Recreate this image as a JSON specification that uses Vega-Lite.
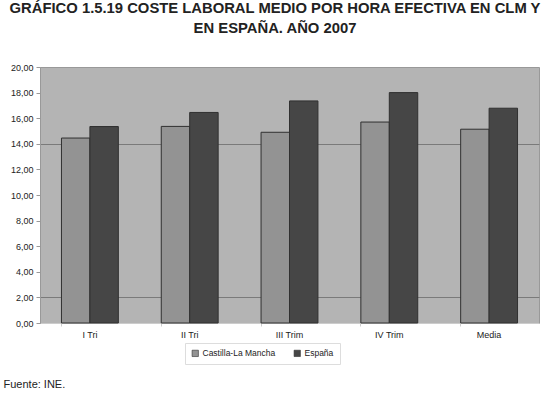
{
  "$schema": "https://vega.github.io/schema/vega-lite/v6.json",
  "width": 499,
  "height": 256,
  "autosize": {"type": "none"},
  "padding": {"left": 40, "top": 67, "right": 11, "bottom": 75},
  "background": "white",
  "title": {
    "text": ["GRÁFICO 1.5.19 COSTE LABORAL MEDIO POR HORA EFECTIVA EN CLM Y", "EN ESPAÑA. AÑO 2007"],
    "font": "Liberation Sans",
    "fontSize": 14.8,
    "fontWeight": "bold",
    "color": "#222222",
    "anchor": "middle",
    "dx": -14.5,
    "lineHeight": 20,
    "offset": 27
  },
  "data": {
    "values": [
      {"periodo": "I Tri", "serie": "Castilla-La Mancha", "valor": 14.45},
      {"periodo": "I Tri", "serie": "España", "valor": 15.35},
      {"periodo": "II Tri", "serie": "Castilla-La Mancha", "valor": 15.36},
      {"periodo": "II Tri", "serie": "España", "valor": 16.45},
      {"periodo": "III Trim", "serie": "Castilla-La Mancha", "valor": 14.9},
      {"periodo": "III Trim", "serie": "España", "valor": 17.35},
      {"periodo": "IV Trim", "serie": "Castilla-La Mancha", "valor": 15.7},
      {"periodo": "IV Trim", "serie": "España", "valor": 18.0},
      {"periodo": "Media", "serie": "Castilla-La Mancha", "valor": 15.14},
      {"periodo": "Media", "serie": "España", "valor": 16.78}
    ]
  },
  "mark": {"type": "bar", "stroke": "#303030", "strokeWidth": 1},
  "encoding": {
    "x": {
      "field": "periodo",
      "type": "nominal",
      "sort": null,
      "scale": {"paddingInner": 0.43, "paddingOuter": 0.215},
      "axis": {
        "title": "Fuente: INE.",
        "titleFont": "Liberation Sans",
        "titleFontSize": 11,
        "titleFontWeight": "normal",
        "titleColor": "#222222",
        "titleAnchor": "start",
        "titleAlign": "left",
        "titleBaseline": "alphabetic",
        "titleX": -37,
        "titleY": 64,
        "labelAngle": 0,
        "labelFont": "Liberation Sans",
        "labelFontSize": 9,
        "labelColor": "#222222",
        "labelPadding": 4,
        "bandPosition": 0,
        "tickSize": 3,
        "tickColor": "#cccccc",
        "domainColor": "#cccccc",
        "grid": false
      }
    },
    "xOffset": {"field": "serie", "sort": ["Castilla-La Mancha", "España"]},
    "y": {
      "field": "valor",
      "type": "quantitative",
      "scale": {"domain": [0, 20], "nice": false},
      "axis": {
        "title": null,
        "values": [0, 2, 4, 6, 8, 10, 12, 14, 16, 18, 20],
        "labelExpr": "replace(format(datum.value, '.2f'), '.', ',')",
        "labelFont": "Liberation Sans",
        "labelFontSize": 9,
        "labelColor": "#222222",
        "labelPadding": 3,
        "tickSize": 4,
        "tickColor": "#999999",
        "domainColor": "#999999",
        "grid": true,
        "gridColor": "#7a7a7a",
        "gridWidth": 1,
        "gridOpacity": {"condition": {"test": "datum.value == 2 || datum.value == 14", "value": 1}, "value": 0}
      }
    },
    "color": {
      "field": "serie",
      "type": "nominal",
      "scale": {"domain": ["Castilla-La Mancha", "España"], "range": ["#939393", "#464646"]},
      "legend": {
        "title": null,
        "orient": "none",
        "legendX": 145,
        "legendY": 276,
        "direction": "horizontal",
        "padding": 6,
        "strokeColor": "#dddddd",
        "labelFont": "Liberation Sans",
        "labelFontSize": 8.5,
        "labelColor": "#222222",
        "labelOffset": 3,
        "symbolType": "square",
        "symbolSize": 40,
        "symbolStrokeColor": "#303030",
        "symbolStrokeWidth": 0.6,
        "columnPadding": 16
      }
    }
  },
  "config": {"view": {"fill": "#b4b4b4", "stroke": "#999999"}}
}
